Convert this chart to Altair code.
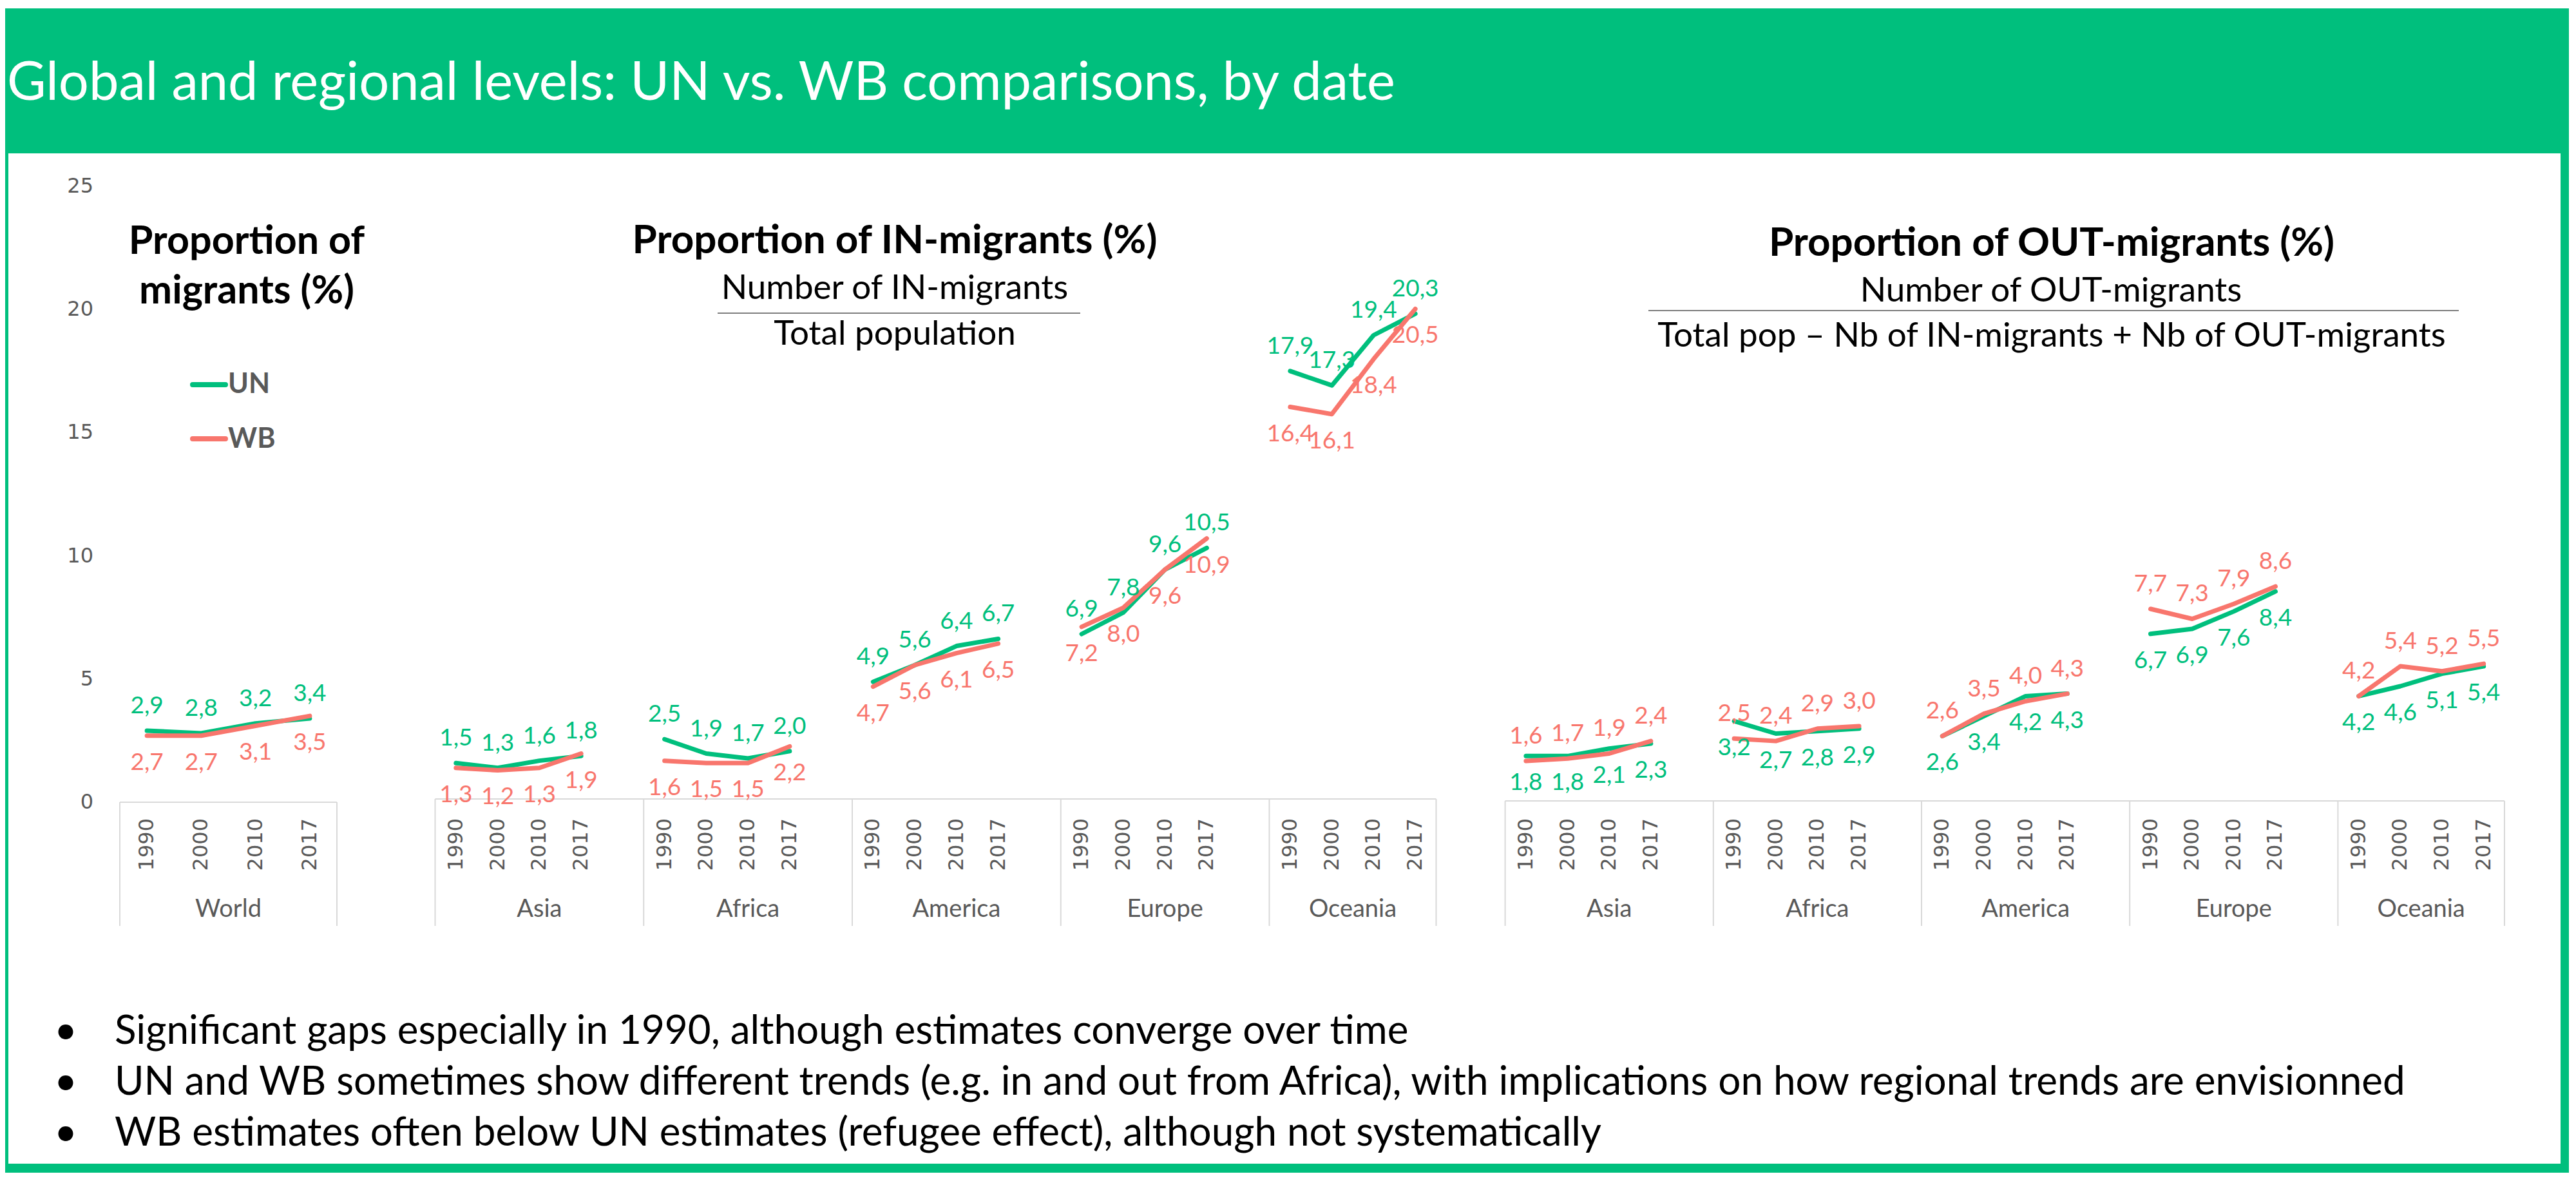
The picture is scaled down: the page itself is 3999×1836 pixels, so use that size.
import altair as alt
import pandas as pd

# ---------------- data ----------------
years = [1990, 2000, 2010, 2017]
series_names = ["UN", "WB"]
world_un = [2.9, 2.8, 3.2, 3.4]
world_wb = [2.7, 2.7, 3.1, 3.5]
regions = ["Asia", "Africa", "America", "Europe", "Oceania"]
in_un = [[1.5, 1.3, 1.6, 1.8], [2.5, 1.9, 1.7, 2.0], [4.9, 5.6, 6.4, 6.7],
         [6.9, 7.8, 9.6, 10.5], [17.9, 17.3, 19.4, 20.3]]
in_wb = [[1.3, 1.2, 1.3, 1.9], [1.6, 1.5, 1.5, 2.2], [4.7, 5.6, 6.1, 6.5],
         [7.2, 8.0, 9.6, 10.9], [16.4, 16.1, 18.4, 20.5]]
out_un = [[1.8, 1.8, 2.1, 2.3], [3.2, 2.7, 2.8, 2.9], [2.6, 3.4, 4.2, 4.3],
          [6.7, 6.9, 7.6, 8.4], [4.2, 4.6, 5.1, 5.4]]
out_wb = [[1.6, 1.7, 1.9, 2.4], [2.5, 2.4, 2.9, 3.0], [2.6, 3.5, 4.0, 4.3],
          [7.7, 7.3, 7.9, 8.6], [4.2, 5.4, 5.2, 5.5]]
y_ticks = [0, 5, 10, 15, 20, 25]

header_title = "Global and regional levels: UN vs. WB comparisons, by date"
bullets = [
    "Significant gaps especially in 1990, although estimates converge over time",
    "UN and WB sometimes show different trends (e.g. in and out from Africa), with implications on how regional trends are envisionned",
    "WB estimates often below UN estimates (refugee effect), although not systematically",
]

# ---------------- style / layout ----------------
GREEN = "#00BF7D"
RED = "#F8766D"
GRAY = "#595959"
BOXGRAY = "#D9D9D9"
FONT = "Lato"
TICKFONT = "DejaVu Sans"

PLOT_L, PLOT_T = 184, 289
PLOT_W, PLOT_H = 3706, 956
SVG_W, SVG_H = 3980, 1814


def rx(px):
    return px - PLOT_L


def ry(py):
    return py - PLOT_T


def xscale(left, w):
    d0 = -(left - PLOT_L) / w
    return alt.Scale(domain=[d0, d0 + PLOT_W / w], nice=False, zero=False)


def yscale(zero, k):
    d0 = (zero - PLOT_T - PLOT_H) / k
    return alt.Scale(domain=[d0, d0 + PLOT_H / k], nice=False, zero=False)


cscale = alt.Scale(domain=series_names, range=[GREEN, RED])
SLOTS = 5  # 4 years + one blank slot per group


def fmt(v):
    return f"{v:.1f}".replace(".", ",")


def build_frames(groups, un_vals, wb_vals, grouped):
    rows, yrs, labs = [], [], []
    n = len(groups)
    total = SLOTS * (n - 1) + len(years) if grouped else len(years)
    bounds = []
    for gi, g in enumerate(groups):
        start = gi * SLOTS if grouped else 0
        end = min(start + SLOTS, total)
        bounds.append(start)
        labs.append({"region": g, "c": (start + end) / 2})
        for yi, yr in enumerate(years):
            s = start + yi + 0.5
            yrs.append({"year": str(yr), "slot": s})
            for sname, vals in (("UN", un_vals), ("WB", wb_vals)):
                v = vals[gi][yi]
                rows.append({"region": g, "series": sname, "slot": s, "value": v,
                             "label": fmt(v), "key": f"{g}-{sname}"})
    bounds.append(total)
    bdf = pd.DataFrame({"b": bounds, "z": 0.0})
    top = pd.DataFrame({"b0": [0], "b1": [total], "z": [0.0]})
    return pd.DataFrame(rows), pd.DataFrame(yrs), pd.DataFrame(labs), bdf, top


def section(groups, un_vals, wb_vals, grouped, xs, ys, above, show_axis):
    df, ydf, ldf, bdf, top = build_frames(groups, un_vals, wb_vals, grouped)
    below = [s for s in series_names if s != above][0]
    X = lambda f: alt.X(f, type="quantitative", scale=xs, axis=None)
    Y = lambda f: alt.Y(f, type="quantitative", scale=ys, axis=None)

    box_top = alt.Chart(top).mark_rule(color=BOXGRAY, strokeWidth=2).encode(
        x=X("b0"), x2="b1", y=Y("z"))
    box_v = alt.Chart(bdf).mark_rule(color=BOXGRAY, strokeWidth=2).encode(
        x=X("b"), y=Y("z"), y2=alt.value(ry(1437)))
    lines = alt.Chart(df).mark_line(strokeWidth=7, strokeCap="round", strokeJoin="round").encode(
        x=X("slot"), y=Y("value"),
        color=alt.Color("series:N", scale=cscale, legend=None), detail="key:N")
    lab_above = alt.Chart(df).transform_filter(alt.datum.series == above).mark_text(
        dy=-38, font=FONT, fontSize=37, baseline="middle").encode(
        x=X("slot"), y=Y("value"), text="label:N",
        color=alt.Color("series:N", scale=cscale, legend=None))
    lab_below = alt.Chart(df).transform_filter(alt.datum.series == below).mark_text(
        dy=42, font=FONT, fontSize=37, baseline="middle").encode(
        x=X("slot"), y=Y("value"), text="label:N",
        color=alt.Color("series:N", scale=cscale, legend=None))
    yr_text = alt.Chart(ydf).mark_text(angle=270, align="right", baseline="middle",
                                       font=TICKFONT, fontSize=32, color=GRAY).encode(
        x=X("slot"), y=alt.value(ry(1270)), text="year:N")
    reg_text = alt.Chart(ldf).mark_text(align="center", baseline="alphabetic",
                                        font=FONT, fontSize=38, color=GRAY).encode(
        x=X("c"), y=alt.value(ry(1423)), text="region:N")
    layers = [box_top, box_v, lines, lab_above, lab_below, yr_text, reg_text]
    if show_axis:
        tdf = pd.DataFrame({"v": y_ticks, "t": [str(t) for t in y_ticks]})
        layers.append(alt.Chart(tdf).mark_text(align="right", baseline="middle",
                                               font=TICKFONT, fontSize=32, color=GRAY).encode(
            x=alt.value(rx(145)), y=Y("v"), text="t:N"))
    return alt.layer(*layers)


world = section(["World"], [world_un], [world_wb], False,
                xscale(186, 84.25), yscale(1245, 38.24), "UN", True)
inm = section(regions, in_un, in_wb, True,
              xscale(675.5, 64.75), yscale(1240, 37.1), "UN", False)
outm = section(regions, out_un, out_wb, True,
               xscale(2336.6, 64.64), yscale(1243, 38.7), "WB", False)

# ---------------- decorations ----------------
one = pd.DataFrame({"a": [0]})


def rect(x0, x1, y0, y1, color):
    return alt.Chart(one).mark_rect(color=color).encode(
        x=alt.value(rx(x0)), x2=alt.value(rx(x1)), y=alt.value(ry(y0)), y2=alt.value(ry(y1)))


def text(t, x, y, size, color="black", weight="normal", align="center", font=FONT):
    return alt.Chart(one).mark_text(text=t, font=font, fontSize=size, fontWeight=weight,
                                    color=color, align=align, baseline="alphabetic").encode(
        x=alt.value(rx(x)), y=alt.value(ry(y)))


def hline(x0, x1, y, color, w):
    return alt.Chart(one).mark_rule(color=color, strokeWidth=w).encode(
        x=alt.value(rx(x0)), x2=alt.value(rx(x1)), y=alt.value(ry(y)))


deco = [
    rect(8, 3988, 13, 238, GREEN),
    rect(8, 13, 238, 1820, GREEN),
    rect(3975, 3988, 225, 1820, GREEN),
    rect(8, 3988, 1806, 1820, GREEN),
    text(header_title, 11, 155, 83, color="white", align="left"),
    text("Proportion of", 383, 394, 61, weight="bold"),
    text("migrants (%)", 383, 471, 61, weight="bold"),
    text("Proportion of IN-migrants (%)", 1389, 393, 62, weight="bold"),
    text("Number of IN-migrants", 1389, 464, 53),
    hline(1114, 1677, 486, "#7F7F7F", 2),
    text("Total population", 1389, 535, 53),
    text("Proportion of OUT-migrants (%)", 3185, 397, 62, weight="bold"),
    text("Number of OUT-migrants", 3184, 468, 53),
    hline(2559, 3817, 482, "#7F7F7F", 2),
    text("Total pop \u2013 Nb of IN-migrants + Nb of OUT-migrants", 3185, 538, 53),
]

legend_rows = [("UN", GREEN, 597, 610), ("WB", RED, 681, 695)]
for name, col, ly, ty in legend_rows:
    deco.append(alt.Chart(one).mark_rule(color=col, strokeWidth=8, strokeCap="round").encode(
        x=alt.value(rx(299)), x2=alt.value(rx(350)), y=alt.value(ry(ly))))
    deco.append(text(name, 354, ty, 43, color=GRAY, weight="bold", align="left"))

for i, b in enumerate(bullets):
    base = 1620 + i * 79
    deco.append(text("\u2022", 102, base, 62))
    deco.append(text(b, 178, base, 62, align="left"))

chart = alt.layer(*deco, world, inm, outm).resolve_scale(
    x="independent", y="independent"
).properties(
    width=PLOT_W, height=PLOT_H,
    autosize=alt.AutoSizeParams(type="none"),
    padding={"left": PLOT_L - 8, "top": PLOT_T - 8,
             "right": SVG_W - (PLOT_L - 8) - PLOT_W,
             "bottom": SVG_H - (PLOT_T - 8) - PLOT_H},
    background="white",
).configure_view(stroke=None)

chart.save("out.html", embed_options={"renderer": "svg", "actions": False})
